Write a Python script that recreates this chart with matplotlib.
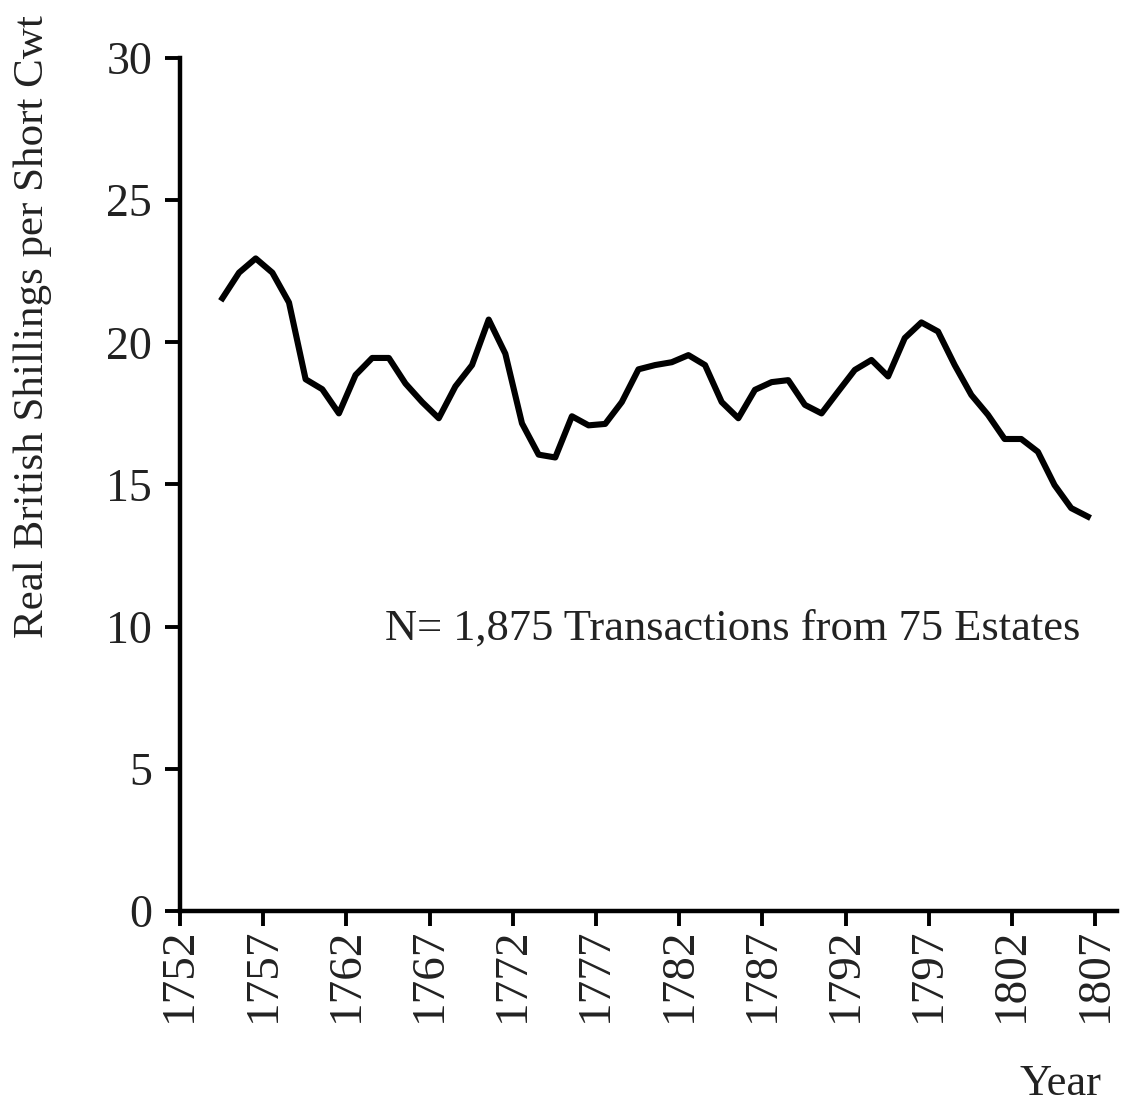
import numpy as np
import matplotlib.pyplot as plt

# Real price per short cwt, one value per year
years = np.arange(1755, 1808)
prices = [21.55, 22.45, 22.95, 22.45, 21.4, 18.7, 18.35, 17.5, 18.85, 19.45,
          19.45, 18.55, 17.9, 17.33, 18.45, 19.2, 20.8, 19.6, 17.15, 16.05,
          15.95, 17.4, 17.08, 17.13, 17.9, 19.05, 19.2, 19.3, 19.55, 19.2,
          17.9, 17.33, 18.33, 18.6, 18.67, 17.8, 17.5, 18.27, 19.03, 19.38,
          18.8, 20.15, 20.7, 20.38, 19.2, 18.15, 17.45, 16.6, 16.6, 16.15,
          14.98, 14.17, 13.87]
xticks = np.arange(1752, 1808, 5)
yticks = [0, 5, 10, 15, 20, 25, 30]

plt.rcParams['font.family'] = ['Liberation Serif', 'DejaVu Serif']

fig = plt.figure(figsize=(11.22, 11.04), dpi=100)
ax = fig.add_axes([0.1604, 0.1748, 0.8351, 0.7727])

# points sit a little before each year mark in the original
ax.plot(years - 0.45, prices, color='black', lw=4.4, solid_joinstyle='round')

ax.set_xlim(1752, 1808.3)
ax.set_ylim(0, 30)
ax.set_xticks(xticks)
ax.set_xticklabels([str(y) for y in xticks], rotation=90)
ax.set_yticks(yticks)

for s in ['top', 'right']:
    ax.spines[s].set_visible(False)
for s in ['left', 'bottom']:
    ax.spines[s].set_linewidth(3.2)
ax.tick_params(direction='out', length=11, width=2.8, labelsize=33,
               colors='black', labelcolor='#222222', pad=9)
ax.tick_params(axis='x', pad=1, labelsize=34)

fig.text(33 / 1122, 1 - 327 / 1104, 'Real British Shillings per Short Cwt',
         rotation=90, ha='center', va='center', fontsize=31, color='#222222')
fig.text(385 / 1122, 1 - 640 / 1104, 'N= 1,875 Transactions from 75 Estates',
         ha='left', va='baseline', fontsize=32, color='#222222')
fig.text(1102 / 1122, 1 - 1095 / 1104, 'Year', ha='right', va='baseline',
         fontsize=32, color='#222222')

fig.savefig('out.png', dpi=100)
